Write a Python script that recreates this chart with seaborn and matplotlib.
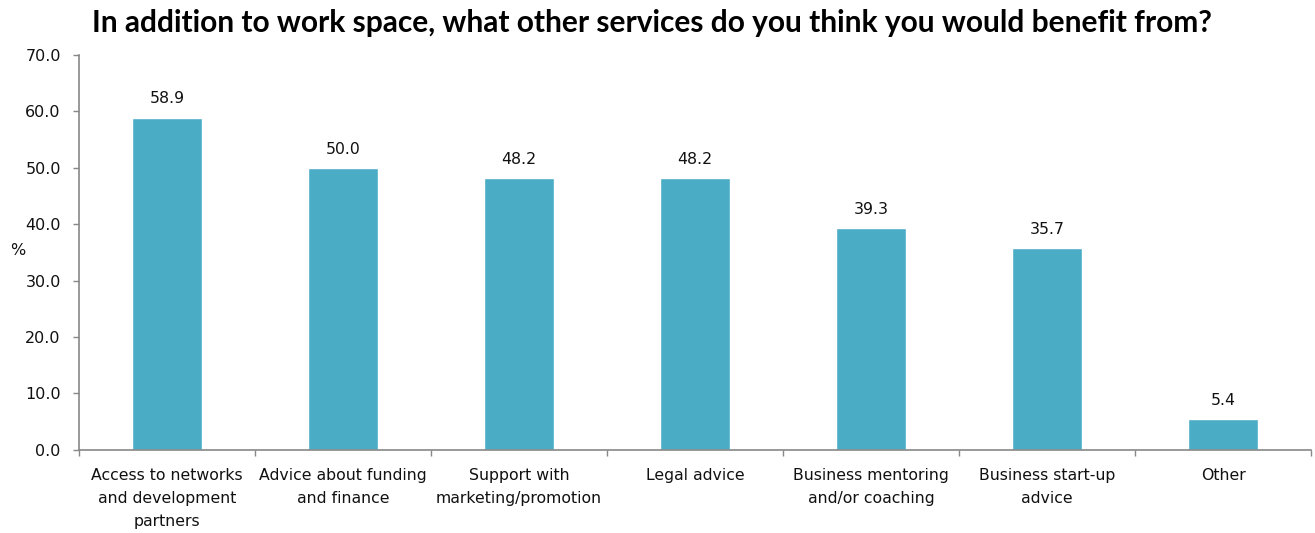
import matplotlib
matplotlib.use("Agg")
import matplotlib.pyplot as plt
import seaborn as sns
import pandas as pd
import numpy as np

categories = ["Access to networks\nand development\npartners",
              "Advice about funding\nand finance",
              "Support with\nmarketing/promotion",
              "Legal advice",
              "Business mentoring\nand/or coaching",
              "Business start-up\nadvice",
              "Other"]
values = [58.9, 50.0, 48.2, 48.2, 39.3, 35.7, 5.4]
yticks = [0, 10, 20, 30, 40, 50, 60, 70]
title = "In addition to work space, what other services do you think you would benefit from?"

sns.set_style("white")
plt.rcParams['font.family'] = ['DejaVu Sans']

df = pd.DataFrame({"cat": categories, "val": values})
fig = plt.figure(figsize=(13.15, 5.33), dpi=100)
ax = fig.add_axes([0.060, 0.156, 0.937, 0.741])
sns.barplot(data=df, x="cat", y="val", color="#4BACC6", saturation=1, width=0.4, ax=ax)
ax.set_xlim(-0.5, len(categories) - 0.5)
ax.set_ylim(0, 70)
ax.set_yticks(yticks)
ax.set_yticklabels([f"{v:.1f}" for v in yticks], fontsize=11.5, color="#111111")
ax.set_xlabel("")
ax.set_ylabel("%", rotation=0, fontsize=11.5, color="#111111", va="center", ha="center")
ax.yaxis.set_label_coords(-0.050, 0.505)
ax.tick_params(axis="x", length=0, labelsize=11.3, colors="#111111", pad=13)
for lab in ax.get_xticklabels():
    lab.set_linespacing(1.65)
ax.tick_params(axis="y", length=4.5, width=1, color="#888888", direction="out", left=True, pad=8.5)
ax.set_xticks(np.arange(-0.5, len(categories)), minor=True)
ax.tick_params(axis="x", which="minor", length=4, width=1, color="#888888", bottom=True, direction="out")
for s in ["top", "right"]:
    ax.spines[s].set_visible(False)
for s in ["left", "bottom"]:
    ax.spines[s].set_color("#888888")
    ax.spines[s].set_linewidth(1.2)
for c in ax.containers:
    ax.bar_label(c, labels=[f"{v:.1f}" for v in values], padding=8, fontsize=11.3, color="#111111")

W, H = 1315, 533
t = fig.text(652 / W, 1 - 32 / H, title, ha="center", va="baseline",
             fontsize=18, fontweight="bold", family="Lato", color="#000000")
fig.canvas.draw()
bb = t.get_window_extent(fig.canvas.get_renderer())
t.set_fontsize(18 * 1120 / bb.width)
fig.savefig("out.png", dpi=100)
